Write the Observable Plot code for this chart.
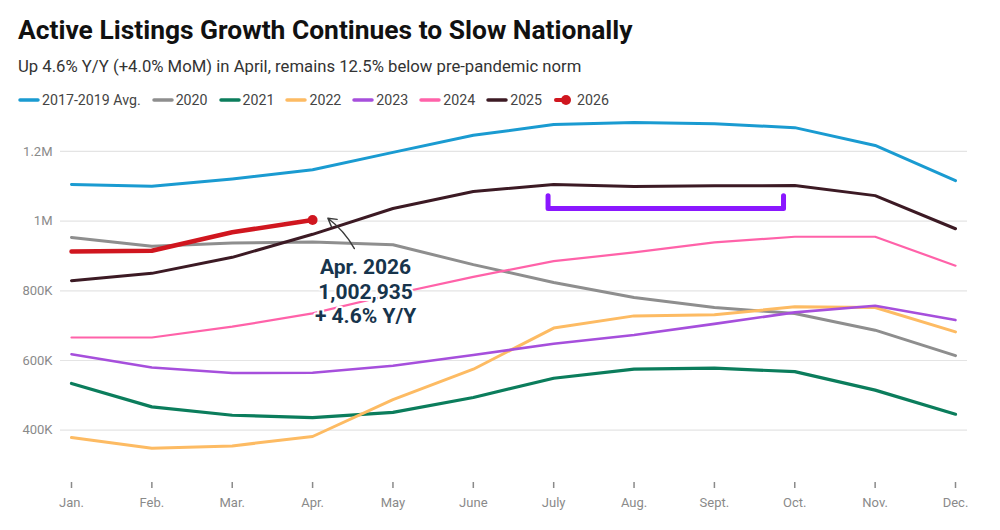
<!DOCTYPE html>
<html>
<head>
<meta charset="utf-8">
<script src="https://cdn.jsdelivr.net/npm/d3@7"></script>
<script src="https://cdn.jsdelivr.net/npm/@observablehq/plot@0.6"></script>
<style>
  html, body { margin: 0; padding: 0; background: #fff; }
  body { width: 1000px; height: 530px; overflow: hidden; font-family: Roboto, "Noto Sans", sans-serif; }
  #title { position: absolute; left: 18px; top: 13px; font-size: 26.4px; font-weight: 700; color: #111; line-height: 34px; white-space: nowrap; }
  #subtitle { position: absolute; left: 18px; top: 56px; font-size: 16.7px; color: #333; line-height: 22px; white-space: nowrap; }
  #legend { position: absolute; left: 18px; top: 91px; display: flex; align-items: center; font-size: 14.2px; color: #444; line-height: 18px; white-space: nowrap; }
  #legend .item { display: flex; align-items: center; margin-right: 11px; }
  #legend svg { margin-right: 2px; }
  #chart { position: absolute; left: 0; top: 110px; }
</style>
</head>
<body>
<div id="title">Active Listings Growth Continues to Slow Nationally</div>
<div id="subtitle">Up 4.6% Y/Y (+4.0% MoM) in April, remains 12.5% below pre-pandemic norm</div>
<div id="legend"></div>
<div id="chart"></div>
<script>
// Month labels along the x axis
const months = ["Jan.", "Feb.", "Mar.", "Apr.", "May", "June", "July", "Aug.", "Sept.", "Oct.", "Nov.", "Dec."];

// Active listings by month for each year
const avg2017to2019 = [1105000, 1100000, 1121000, 1147000, 1197000, 1246000, 1277000, 1283000, 1279000, 1268000, 1217000, 1116000];
const y2020 = [953000, 928000, 937000, 940000, 932000, 875000, 824000, 781000, 752000, 735000, 687000, 614000];
const y2021 = [534000, 467000, 443000, 436000, 451000, 494000, 549000, 575000, 578000, 568000, 515000, 446000];
const y2022 = [379000, 348000, 355000, 382000, 488000, 575000, 693000, 728000, 731000, 754000, 752000, 682000];
const y2023 = [618000, 580000, 564000, 565000, 585000, 616000, 648000, 673000, 705000, 738000, 757000, 716000];
const y2024 = [666000, 666000, 697000, 735000, 790000, 840000, 885000, 910000, 939000, 955000, 955000, 872000];
const y2025 = [829000, 850000, 896000, 962000, 1036000, 1085000, 1105000, 1099000, 1101000, 1102000, 1073000, 978000];
const y2026 = [913000, 915000, 968000, 1002935];

// Series names, colours and stroke widths
const seriesNames = ["2017-2019 Avg.", "2020", "2021", "2022", "2023", "2024", "2025", "2026"];
const seriesColors = ["#1a9bd1", "#8e8e8e", "#0b7d5c", "#fdbb63", "#a64fdc", "#ff62a9", "#3c1a24", "#d0161f"];
const seriesWidths = [3, 3, 3.2, 3, 2.6, 2.2, 3, 4.5];
const seriesValues = [avg2017to2019, y2020, y2021, y2022, y2023, y2024, y2025, y2026];

// y axis ticks
const yTicks = [400000, 600000, 800000, 1000000, 1200000];
const yTickLabels = ["400K", "600K", "800K", "1M", "1.2M"];

// Callout for the latest month
const calloutLines = ["Apr. 2026", "1,002,935", "+ 4.6% Y/Y"];
const calloutMonth = 3;
const calloutValue = 1002935;
// Arrow from the callout up to the April 2026 point
const arrowFrom = {x: 3.52, y: 921000};
const arrowTo = {x: 3.19, y: 1008000};

// Bracket over the summer-to-fall stretch of 2025
const bracketStart = 5.93, bracketEnd = 8.86;
const bracketTop = 1073000, bracketBottom = 1036000;

// Long-format table for the line marks
const rows = seriesNames.flatMap((name, s) =>
  seriesValues[s].map((v, i) => ({series: name, month: i, value: v}))
);

const bracket = [
  {x: bracketStart, y: bracketTop},
  {x: bracketStart, y: bracketBottom},
  {x: bracketEnd, y: bracketBottom},
  {x: bracketEnd, y: bracketTop}
];

const marks = [
  Plot.ruleY(yTicks, {stroke: "#e4e4e4", strokeWidth: 1.2}),
  Plot.axisY({
    ticks: yTicks,
    tickSize: 0,
    tickPadding: 8,
    tickFormat: (d) => yTickLabels[yTicks.indexOf(d)],
    fill: "#8a8a8a",
    fontSize: 13,
    label: null
  }),
  Plot.axisX({
    ticks: d3.range(months.length),
    tickFormat: (i) => months[i],
    tickSize: 6,
    tickPadding: 9,
    stroke: "#8a8a8a",
    strokeWidth: 1.5,
    fill: "#8a8a8a",
    fontSize: 13,
    label: null
  })
];

// One line per series, drawn oldest first so 2026 sits on top
seriesNames.forEach((name, s) => {
  marks.push(Plot.line(rows.filter((d) => d.series === name), {
    x: "month",
    y: "value",
    stroke: seriesColors[s],
    strokeWidth: seriesWidths[s],
    strokeLinejoin: "round",
    strokeLinecap: "round"
  }));
});

const last2026 = y2026.length - 1;
marks.push(
  Plot.dot([{month: last2026, value: y2026[last2026]}], {x: "month", y: "value", r: 5, fill: seriesColors[7], stroke: "none"}),
  Plot.line(bracket, {x: "x", y: "y", stroke: "#8a17ff", strokeWidth: 5, strokeLinejoin: "round", strokeLinecap: "round"}),
  Plot.arrow([{x1: arrowFrom.x, y1: arrowFrom.y, x2: arrowTo.x, y2: arrowTo.y}], {
    x1: "x1", y1: "y1", x2: "x2", y2: "y2",
    bend: -12, stroke: "#3a3a3a", strokeWidth: 1.4, headLength: 10
  }),
  Plot.text([calloutLines.join("\n")], {
    x: () => calloutMonth,
    y: () => calloutValue,
    text: (d) => d,
    dx: 53,
    dy: 71,
    lineHeight: 1.17,
    fontSize: 21,
    fontWeight: 700,
    fill: "#17344c",
    stroke: "white",
    strokeWidth: 4,
    textAnchor: "middle"
  })
);

const chart = Plot.plot({
  width: 1000,
  height: 420,
  marginLeft: 60,
  marginRight: 33,
  marginTop: 6,
  marginBottom: 48,
  style: {fontFamily: "Roboto, 'Noto Sans', sans-serif", background: "white"},
  x: {type: "linear", domain: [0, 11], insetLeft: 11, insetRight: 12},
  y: {type: "linear", domain: [250000, 1300000]},
  marks
});
document.getElementById("chart").appendChild(chart);

// Legend built from the same series list
const legend = document.getElementById("legend");
seriesNames.forEach((name, s) => {
  const item = document.createElement("div");
  item.className = "item";
  const isDot = s === seriesNames.length - 1;
  const sw = isDot
    ? `<svg width="22" height="12"><line x1="3" y1="6" x2="12" y2="6" stroke="${seriesColors[s]}" stroke-width="4" stroke-linecap="round"/><circle cx="13" cy="6" r="5" fill="${seriesColors[s]}"/></svg>`
    : `<svg width="22" height="12"><line x1="2" y1="6" x2="20" y2="6" stroke="${seriesColors[s]}" stroke-width="3.5" stroke-linecap="round"/></svg>`;
  item.innerHTML = sw + `<span>${name}</span>`;
  legend.appendChild(item);
});
</script>
</body>
</html>
